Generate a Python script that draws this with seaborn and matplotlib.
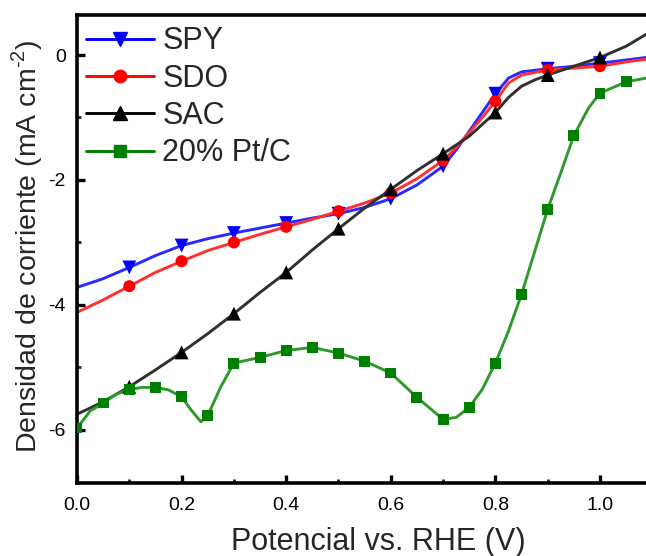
import numpy as np
import pandas as pd
import matplotlib
matplotlib.use("Agg")
import matplotlib.pyplot as plt
import seaborn as sns
from matplotlib.lines import Line2D
from matplotlib.ticker import MultipleLocator

sns.set_theme(style="ticks")
plt.rcParams["font.family"] = ["Liberation Sans", "DejaVu Sans"]
plt.rcParams["mathtext.fontset"] = "custom"
plt.rcParams["mathtext.rm"] = "Liberation Sans"

# ---- data ----
series_names = ["SPY", "SDO", "SAC", "20% Pt/C"]

spy_x = [0.0, 0.05, 0.1, 0.15, 0.2, 0.25, 0.3, 0.35, 0.4, 0.45, 0.5, 0.55, 0.6, 0.65, 0.7,
         0.725, 0.75, 0.775, 0.8, 0.825, 0.85, 0.9, 0.95, 1.0, 1.05, 1.088]
spy_y = [-3.72, -3.58, -3.40, -3.21, -3.05, -2.94, -2.85, -2.77, -2.69, -2.61, -2.54, -2.44, -2.30, -2.08, -1.78,
         -1.52, -1.22, -0.92, -0.62, -0.37, -0.27, -0.22, -0.18, -0.13, -0.08, -0.04]

sdo_x = [0.0, 0.05, 0.1, 0.15, 0.2, 0.25, 0.3, 0.35, 0.4, 0.45, 0.5, 0.55, 0.6, 0.65, 0.7,
         0.725, 0.75, 0.775, 0.8, 0.825, 0.85, 0.9, 0.95, 1.0, 1.05, 1.088]
sdo_y = [-4.12, -3.92, -3.70, -3.48, -3.30, -3.13, -3.00, -2.87, -2.75, -2.63, -2.50, -2.37, -2.21, -1.98, -1.69,
         -1.48, -1.24, -1.00, -0.74, -0.45, -0.32, -0.24, -0.21, -0.18, -0.11, -0.07]

sac_x = [0.0, 0.05, 0.1, 0.15, 0.2, 0.25, 0.3, 0.35, 0.4, 0.45, 0.5, 0.55, 0.6, 0.65, 0.7,
         0.75, 0.8, 0.825, 0.85, 0.875, 0.9, 0.95, 1.0, 1.05, 1.088]
sac_y = [-5.75, -5.55, -5.31, -5.04, -4.76, -4.46, -4.14, -3.80, -3.48, -3.12, -2.78, -2.45, -2.15, -1.85, -1.58,
         -1.30, -0.92, -0.68, -0.50, -0.40, -0.32, -0.18, -0.04, 0.14, 0.33]

ptc_x = [0.0, 0.025, 0.05, 0.075, 0.1, 0.125, 0.15, 0.175, 0.2, 0.218, 0.237, 0.25, 0.275, 0.3, 0.35, 0.4,
         0.45, 0.5, 0.55, 0.6, 0.65, 0.7, 0.725, 0.75, 0.775, 0.8, 0.825, 0.85, 0.875, 0.9, 0.927,
         0.95, 0.978, 1.0, 1.05, 1.088]
ptc_y = [-5.97, -5.70, -5.57, -5.43, -5.35, -5.32, -5.32, -5.36, -5.47, -5.68, -5.87, -5.77, -5.31, -4.93, -4.84, -4.73,
         -4.68, -4.77, -4.90, -5.09, -5.48, -5.83, -5.80, -5.64, -5.35, -4.93, -4.42, -3.83, -3.15, -2.47, -1.84,
         -1.29, -0.85, -0.61, -0.43, -0.37]

spy_marks = [0.1, 0.2, 0.3, 0.4, 0.5, 0.6, 0.7, 0.8, 0.9, 1.0]
sdo_marks = [0.1, 0.2, 0.3, 0.4, 0.5, 0.6, 0.7, 0.8, 0.9, 1.0]
sac_marks = [0.1, 0.2, 0.3, 0.4, 0.5, 0.6, 0.7, 0.8, 0.9, 1.0]
ptc_marks = [0.0, 0.05, 0.1, 0.15, 0.2, 0.25, 0.3, 0.35, 0.4, 0.45, 0.5, 0.55, 0.6, 0.65, 0.7,
             0.75, 0.8, 0.85, 0.9, 0.95, 1.0, 1.05]

x_ticks = [0.0, 0.2, 0.4, 0.6, 0.8, 1.0]
y_ticks = [0, -2, -4, -6]

# ---- build tables ----
frames = []
for name, xs, ys, marks in zip(series_names, [spy_x, sdo_x, sac_x, ptc_x], [spy_y, sdo_y, sac_y, ptc_y],
                               [spy_marks, sdo_marks, sac_marks, ptc_marks]):
    mk = set(np.round(marks, 3))
    frames.append(pd.DataFrame({"series": name, "x": xs, "y": ys,
                                "mark": [round(v, 3) in mk for v in xs]}))
df = pd.concat(frames, ignore_index=True)

colors = {"SPY": "#0000ff", "SDO": "#ff0000", "SAC": "#000000", "20% Pt/C": "#008000"}
line_colors = {"SPY": "#2a2aff", "SDO": "#ff3030", "SAC": "#303030", "20% Pt/C": "#2e9a2e"}
markers = {"SPY": "v", "SDO": "o", "SAC": "^", "20% Pt/C": "s"}
msize = {"SPY": 100, "SDO": 75, "SAC": 100, "20% Pt/C": 62}

fig = plt.figure(figsize=(6.46, 5.56), dpi=100)
ax = fig.add_axes([0.1192, 0.1313, 0.8808, 0.8417])

sns.lineplot(data=df, x="x", y="y", hue="series", palette=line_colors, sort=False,
             estimator=None, legend=False, linewidth=2.1, ax=ax)
mdf = df[df["mark"]]
for name in series_names:
    sub = mdf[mdf["series"] == name]
    sns.scatterplot(data=sub, x="x", y="y", color=colors[name], marker=markers[name],
                    s=msize[name], edgecolor="none", linewidth=0, ax=ax, zorder=5, clip_on=True)

ax.set_xlim(0.0, 1.088)
ax.set_ylim(-6.85, 0.64)
ax.set_xticks(x_ticks)
ax.set_xticklabels([f"{v:.1f}" for v in x_ticks])
ax.set_yticks(y_ticks)
ax.set_yticklabels([str(v) for v in y_ticks])
ax.xaxis.set_minor_locator(MultipleLocator(0.1))
ax.yaxis.set_minor_locator(MultipleLocator(1))

for side in ["left", "bottom", "top"]:
    ax.spines[side].set_linewidth(2.6)
    ax.spines[side].set_color("black")
ax.spines["right"].set_visible(False)

ax.tick_params(which="major", direction="in", length=6, width=2.4, labelsize=14, pad=10, colors="black")
ax.tick_params(which="minor", direction="in", length=3, width=2.0)
ax.tick_params(axis="y", which="major", pad=8)

ax.set_xlabel("Potencial vs. RHE (V)", fontsize=22)
ax.xaxis.set_label_coords(0.529, -0.095)
ax.set_ylabel("Densidad de corriente (mA cm$^{\\mathrm{ \u20102}}$)", fontsize=20.5)
ax.yaxis.set_label_coords(-0.056, 0.505)

handles = [Line2D([0], [0], color=colors[n], lw=2.1, marker=markers[n],
                  markersize=10.5 if markers[n] in "v^" else 9) for n in series_names]
ax.legend(handles, series_names, loc="upper left", frameon=False, fontsize=22,
          handlelength=2.22, handletextpad=0.27, labelspacing=0.24,
          bbox_to_anchor=(-0.016, 1.015), borderaxespad=0.2)

fig.savefig("out.png", dpi=100)
